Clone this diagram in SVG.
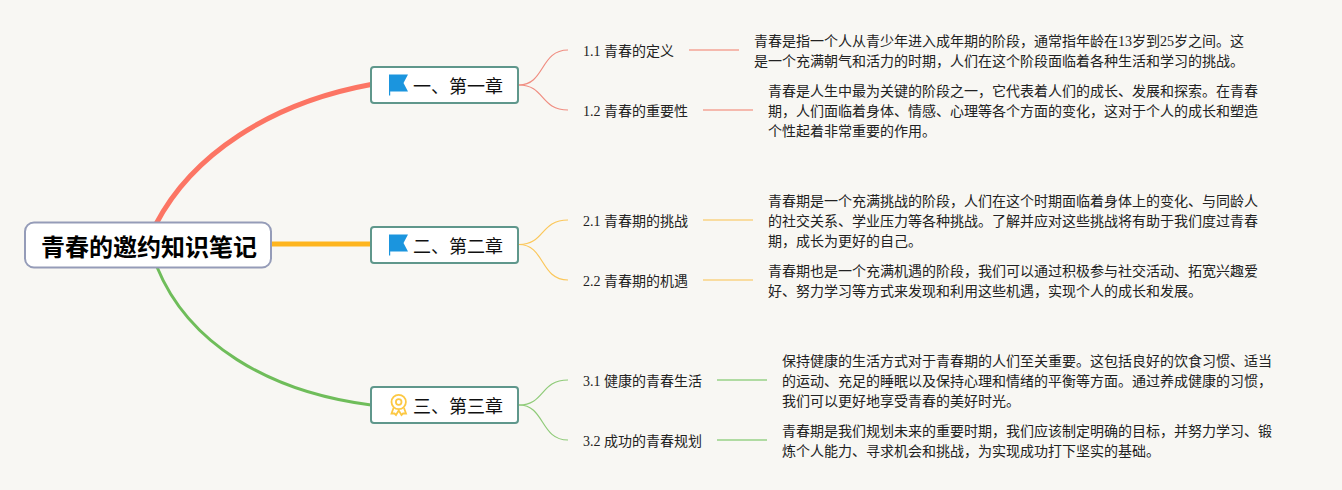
<svg xmlns="http://www.w3.org/2000/svg" width="1342" height="490" viewBox="0 0 1342 490">
<style>
text{font-family:"Liberation Serif","Noto Sans CJK SC",serif;fill:#111}
.root{font-size:24px;font-weight:700;fill:#000}
.ch{font-size:18px}
.sub{font-size:14px;fill:#222}
.d{font-size:14px;fill:#222}
.box{fill:#fff;stroke:#5f978b;stroke-width:2}
.c{fill:none}
.red{stroke:#f08d80;stroke-width:1.2}
.yel{stroke:#fbc75a;stroke-width:1.2}
.grn{stroke:#8fcb78;stroke-width:1.2}
.redl{stroke:#f5b9ad;stroke-width:2}
.yell{stroke:#f9dc9f;stroke-width:2}
.grnl{stroke:#b0dba2;stroke-width:2}
.flag{fill:#1b95de}
.med{fill:none;stroke:#fcc843;stroke-width:1.8}
</style>
<rect width="1342" height="490" fill="#f8f7f3"/>
<g id="connectors">
<path class="c" d="M156 224C192 155 270 103 371 84.500" stroke="#fc7564" stroke-width="5"/>
<path class="c" d="M270 244H371" stroke="#feb51e" stroke-width="5"/>
<path class="c" d="M157 267C188 343 268 392 371 405" stroke="#6fbd5a" stroke-width="3"/>
<path class="c red" d="M519 85C545 85 540 50 568 50"/>
<path class="c red" d="M519 85C545 85 540 110 568 110"/>
<path class="c yel" d="M519 244.500C545 244.500 540 220 568 220"/>
<path class="c yel" d="M519 244.500C545 244.500 540 280 568 280"/>
<path class="c grn" d="M519 405C545 405 540 380 568 380"/>
<path class="c grn" d="M519 405C545 405 540 440 568 440"/>
<path class="c redl" d="M689 50H739"/>
<path class="c redl" d="M703 110H753"/>
<path class="c yell" d="M703 220H753"/>
<path class="c yell" d="M703 280H753"/>
<path class="c grnl" d="M717 380H767"/>
<path class="c grnl" d="M717 440H767"/>
</g>
<g id="root">
<rect x="25" y="222.500" width="246" height="45" rx="9" fill="#fff" stroke="#959cb8" stroke-width="2"/>
<text class="root" x="41" y="256">青春的邀约知识笔记</text>
</g>
<g id="ch1">
<rect class="box" x="371" y="67" width="147" height="36" rx="3"/>
<path class="flag" d="M389 74.500H408L403.500 83L408 91.500H390.200V95.500H389Z"/>
<text class="ch" x="413" y="93">一、第一章</text>
</g>
<g id="ch2">
<rect class="box" x="371" y="227" width="147" height="36" rx="3"/>
<path class="flag" d="M389 234.500H408L403.500 243L408 251.500H390.200V255.500H389Z"/>
<text class="ch" x="413" y="253">二、第二章</text>
</g>
<g id="ch3">
<rect class="box" x="371" y="387" width="147" height="36" rx="3"/>
<g class="med">
<circle cx="398.700" cy="402" r="7.200"/>
<circle cx="398.700" cy="402" r="2.800"/>
<path d="M393.500 408L391.500 413.500L394.500 413.500L396 415L398.700 410.500L401.500 415L403 413.500L406 413.500L404 408"/>
</g>
<text class="ch" x="413" y="413">三、第三章</text>
</g>
<g id="n11"><text class="sub" x="583" y="56">1.1 青春的定义</text></g>
<g id="n12"><text class="sub" x="583" y="116">1.2 青春的重要性</text></g>
<g id="n21"><text class="sub" x="583" y="226">2.1 青春期的挑战</text></g>
<g id="n22"><text class="sub" x="583" y="286">2.2 青春期的机遇</text></g>
<g id="n31"><text class="sub" x="583" y="386">3.1 健康的青春生活</text></g>
<g id="n32"><text class="sub" x="583" y="446">3.2 成功的青春规划</text></g>
<g id="d11"><text class="d" x="754" y="46">青春是指一个人从青少年进入成年期的阶段，通常指年龄在13岁到25岁之间。这</text><text class="d" x="754" y="66">是一个充满朝气和活力的时期，人们在这个阶段面临着各种生活和学习的挑战。</text></g>
<g id="d12"><text class="d" x="768" y="96">青春是人生中最为关键的阶段之一，它代表着人们的成长、发展和探索。在青春</text><text class="d" x="768" y="116">期，人们面临着身体、情感、心理等各个方面的变化，这对于个人的成长和塑造</text><text class="d" x="768" y="136">个性起着非常重要的作用。</text></g>
<g id="d21"><text class="d" x="768" y="206">青春期是一个充满挑战的阶段，人们在这个时期面临着身体上的变化、与同龄人</text><text class="d" x="768" y="226">的社交关系、学业压力等各种挑战。了解并应对这些挑战将有助于我们度过青春</text><text class="d" x="768" y="246">期，成长为更好的自己。</text></g>
<g id="d22"><text class="d" x="768" y="276">青春期也是一个充满机遇的阶段，我们可以通过积极参与社交活动、拓宽兴趣爱</text><text class="d" x="768" y="296">好、努力学习等方式来发现和利用这些机遇，实现个人的成长和发展。</text></g>
<g id="d31"><text class="d" x="782" y="366">保持健康的生活方式对于青春期的人们至关重要。这包括良好的饮食习惯、适当</text><text class="d" x="782" y="386">的运动、充足的睡眠以及保持心理和情绪的平衡等方面。通过养成健康的习惯，</text><text class="d" x="782" y="406">我们可以更好地享受青春的美好时光。</text></g>
<g id="d32"><text class="d" x="782" y="436">青春期是我们规划未来的重要时期，我们应该制定明确的目标，并努力学习、锻</text><text class="d" x="782" y="456">炼个人能力、寻求机会和挑战，为实现成功打下坚实的基础。</text></g>
</svg>
